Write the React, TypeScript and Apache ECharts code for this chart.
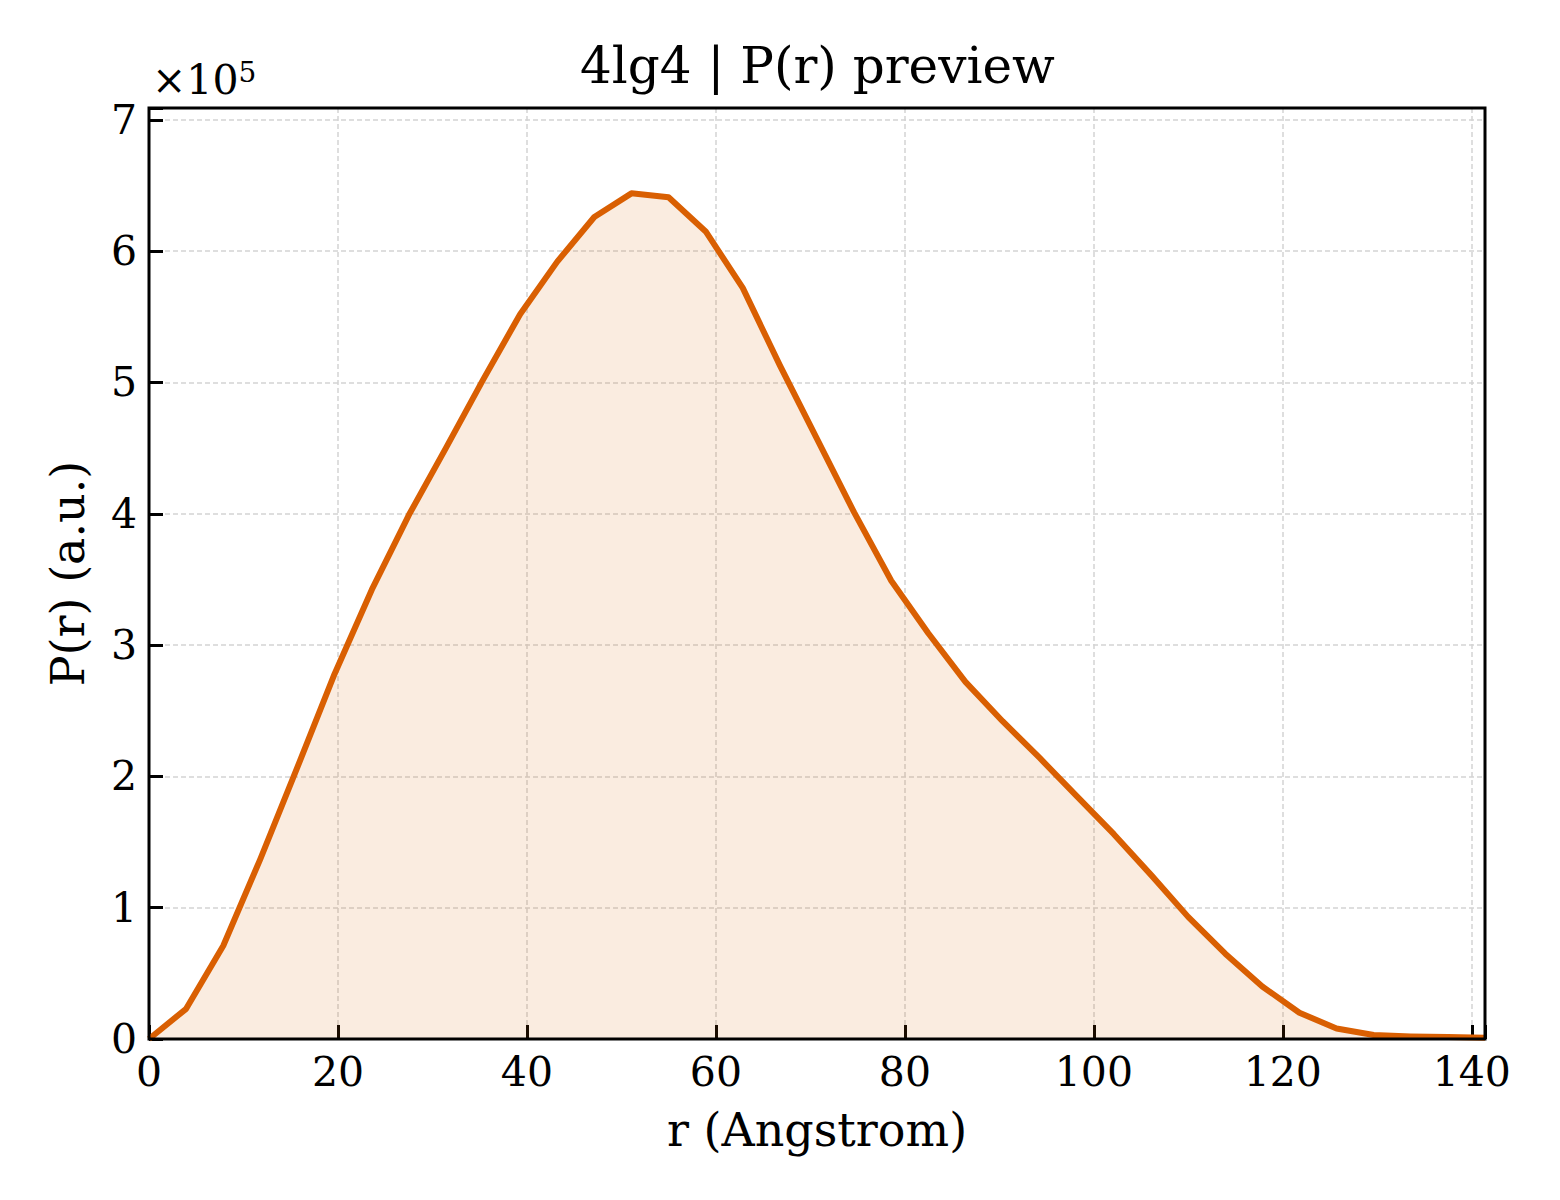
import { useEffect, useRef } from 'react'
import * as echarts from 'echarts'

const rValues = [
  0, 3.93, 7.86, 11.78, 15.71, 19.64, 23.57, 27.5, 31.42, 35.35, 39.28, 43.21,
  47.13, 51.06, 54.99, 58.92, 62.84, 66.77, 70.7, 74.63, 78.56, 82.48, 86.41,
  90.34, 94.27, 98.19, 102.12, 106.05, 109.98, 113.91, 117.83, 121.76, 125.69,
  129.62, 133.54, 137.47, 141.4
]
const prValues = [
  0, 23000, 71000, 137000, 207000, 278000, 342000, 399000, 450000, 502000,
  552000, 592000, 626000, 644000, 641000, 615000, 572000, 513000, 457000,
  401000, 349000, 309000, 272000, 242000, 214000, 185000, 156000, 125000,
  93000, 65000, 40000, 20000, 8000, 3000, 2000, 1500, 1000
]
const xTicks = [0, 20, 40, 60, 80, 100, 120, 140]
const yTicks = [0, 1, 2, 3, 4, 5, 6, 7]

const FONT = '"DejaVu Serif", serif'
const ORANGE = '#d95f02'

// plot box in pixels
const BOX = { left: 149, top: 108, right: 75, bottom: 161 }

export default function App(): JSX.Element {
  const chartRef = useRef<HTMLDivElement>(null)

  useEffect(() => {
    if (!chartRef.current) return
    document.body.style.margin = '0'
    const chart = echarts.init(chartRef.current, undefined, { renderer: 'svg' })

    const gridLine = {
      show: true,
      lineStyle: { color: '#d4d4d4', width: 1.5, type: [5, 3] as number[] }
    }
    const tick = {
      show: true,
      inside: true,
      length: 14,
      lineStyle: { color: '#000', width: 3 }
    }

    const option: echarts.EChartsOption = {
      animation: false,
      backgroundColor: '#ffffff',
      title: {
        text: '4lg4 | P(r) preview',
        left: 575,
        top: 36,
        textStyle: { fontFamily: FONT, fontSize: 50, fontWeight: 'normal', color: '#000' }
      },
      grid: {
        left: BOX.left,
        right: BOX.right,
        top: BOX.top,
        bottom: BOX.bottom
      },
      xAxis: {
        type: 'value',
        min: 0,
        max: rValues[rValues.length - 1],
        interval: 20,
        name: 'r (Angstrom)',
        nameLocation: 'middle',
        nameGap: 68,
        nameTextStyle: { fontFamily: FONT, fontSize: 46, color: '#000' },
        axisLine: { show: false },
        axisTick: tick,
        axisLabel: {
          fontFamily: FONT,
          fontSize: 41,
          color: '#000',
          margin: 12,
          formatter: (v: number) => (xTicks.includes(v) ? String(v) : '')
        },
        splitLine: gridLine
      },
      yAxis: {
        type: 'value',
        min: 0,
        max: 709000,
        interval: 100000,
        name: 'P(r) (a.u.)',
        nameLocation: 'middle',
        nameGap: 58,
        nameRotate: 90,
        nameTextStyle: { fontFamily: FONT, fontSize: 46, color: '#000' },
        axisLine: { show: false },
        axisTick: tick,
        axisLabel: {
          fontFamily: FONT,
          fontSize: 41,
          color: '#000',
          margin: 12,
          formatter: (v: number) => {
            const t = v / 100000
            return yTicks.includes(t) ? String(t) : ''
          }
        },
        splitLine: gridLine
      },
      graphic: [
        {
          type: 'rect',
          z: 100,
          silent: true,
          shape: {
            x: BOX.left,
            y: BOX.top,
            width: 1560 - BOX.left - BOX.right,
            height: 1200 - BOX.top - BOX.bottom
          },
          style: { fill: 'none', stroke: '#000', lineWidth: 3 }
        },
        {
          type: 'text',
          left: 152,
          top: 58,
          style: {
            text: '×10{s|5}',
            font: `41px ${FONT}`,
            fill: '#000',
            rich: { s: { fontSize: 28, fontFamily: FONT, verticalAlign: 'top', padding: [0, 0, 15, 0] } }
          } as any
        }
      ],
      series: [
        {
          type: 'line',
          data: rValues.map((r, i) => [r, prValues[i]]),
          showSymbol: false,
          clip: true,
          lineStyle: { color: ORANGE, width: 6, join: 'round' } as any,
          itemStyle: { color: ORANGE },
          areaStyle: { color: ORANGE, opacity: 0.12 }
        }
      ]
    }

    chart.setOption(option)
    return () => chart.dispose()
  }, [])

  return <div ref={chartRef} style={{ width: 1560, height: 1200 }} />
}
